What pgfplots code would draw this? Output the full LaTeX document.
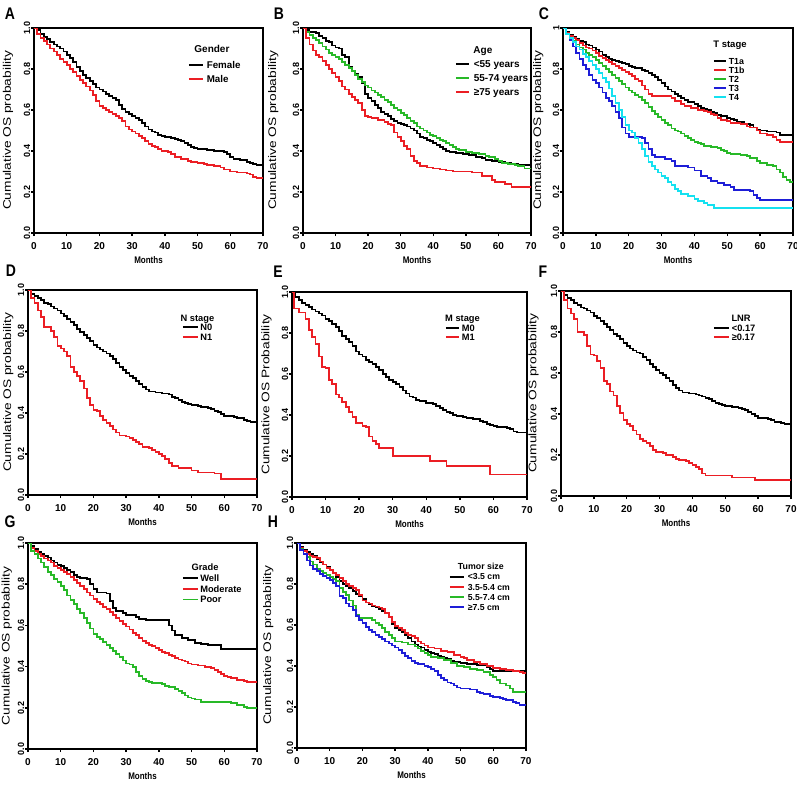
\documentclass[border=0pt]{standalone}
\usepackage{fontspec}
\setmainfont{Liberation Sans}
\usepackage{graphicx}
\usepackage{pgfplots}
\pgfplotsset{compat=1.18}

\definecolor{kmred}{RGB}{235,30,36}
\definecolor{kmgreen}{RGB}{40,185,40}
\definecolor{kmblue}{RGB}{30,30,215}
\definecolor{kmcyan}{RGB}{20,225,240}

\newcommand{\ylab}[1]{\scalebox{1.25}[1]{\fontsize{11}{12}\selectfont #1}}
\newcommand{\xlab}{\scalebox{1}[1.2]{\fontsize{8}{9}\selectfont\bfseries Months}}
\newcommand{\plet}[1]{\scalebox{1}[1.2]{\fontsize{14}{16}\selectfont\bfseries #1}}

\pgfplotsset{
  /pgf/number format/assume math mode=true,
  km/.style={
    scale only axis,
    xmin=0, xmax=70, ymin=0, ymax=1,
    axis line style={line width=1.9pt},
    xtick={0,10,20,30,40,50,60,70},
    xticklabels={0,10,20,30,40,50,60,70},
    ytick={0,0.2,0.4,0.6,0.8,1},
    yticklabels={0.0,0.2,0.4,0.6,0.8,1.0},
    tick align=outside, xtick pos=bottom, ytick pos=left,
    major tick length=3pt,
    tick style={line width=1.5pt, black},
    xticklabel style={font=\fontsize{10}{11}\selectfont\bfseries, inner sep=0pt, anchor=north},
    xticklabel shift=6pt,
    yticklabel style={font=\fontsize{9}{10}\selectfont\bfseries, rotate=90, inner sep=0pt, anchor=south},
    yticklabel shift=0.5pt,
    xlabel={\xlab},
    xlabel style={at={(axis description cs:0.5,0)}, anchor=center, yshift=-27pt},
    every axis plot/.append style={const plot, line width=1.8pt},
    no markers,
    legend cell align=left,
  },
  leg/.style n args={7}{% x, y, font size, text height, row sep, col sep, line length
    legend style={at={(axis description cs:#1,#2)}, anchor=north west,
      draw=none, fill=none, inner sep=0pt, outer sep=0pt,
      font=\fontsize{#3}{#3}\selectfont\bfseries, row sep=#5, column sep=#6,
      nodes={inner sep=0pt, text height=#4, text depth=0pt}},
    legend image code/.code={\draw[##1, line width=1.8pt] (0pt,0pt) -- (#7,0pt);},
  },
  ylpos/.style={ylabel style={at={(axis description cs:#1,0.5)}, anchor=center}},
}

\begin{document}
\begin{tikzpicture}
\useasboundingbox (0pt,0pt) rectangle (797pt,-792pt);

% ---------------- A ----------------
\begin{axis}[km, at={(34pt,-28pt)}, anchor=north west, width=229pt, height=205pt,
  ylabel={\ylab{Cumulative OS probability}}, ylpos=-0.1135,
  leg={0.6725}{0.837}{9.8}{7pt}{7pt}{3pt}{14pt}]
\addplot[black] coordinates {(0,1)(1,0.99)(2,0.97)(3,0.955)(4,0.945)(5,0.93)(6,0.92)(7,0.91)(8,0.9)(9,0.885)(10,0.87)(11,0.855)(12,0.835)(13,0.81)(14,0.79)(15,0.77)(16,0.755)(17,0.74)(18,0.725)(19,0.71)(20,0.70)(21,0.69)(22,0.68)(23,0.67)(24,0.66)(25,0.65)(26,0.625)(27,0.605)(28,0.59)(29,0.58)(30,0.57)(31,0.56)(32,0.55)(33,0.535)(34,0.52)(35,0.505)(36,0.495)(37,0.49)(38,0.48)(39,0.475)(40,0.47)(42,0.465)(43,0.46)(44,0.455)(45,0.45)(46,0.44)(47,0.43)(48,0.42)(49,0.415)(50,0.41)(53,0.405)(55,0.40)(58,0.395)(59,0.385)(60,0.37)(61,0.36)(63,0.355)(65,0.345)(66,0.34)(67,0.335)(68,0.33)(70,0.33)};
\addlegendentry{Female}
\addplot[kmred] coordinates {(0,1)(1,0.97)(2,0.95)(3,0.935)(4,0.92)(5,0.90)(6,0.885)(7,0.87)(8,0.85)(9,0.835)(10,0.82)(11,0.80)(12,0.785)(13,0.765)(14,0.745)(15,0.73)(16,0.715)(17,0.695)(18,0.675)(19,0.645)(20,0.62)(21,0.61)(22,0.60)(23,0.59)(24,0.58)(25,0.57)(26,0.56)(27,0.545)(28,0.52)(29,0.505)(30,0.495)(31,0.485)(32,0.475)(33,0.465)(34,0.45)(35,0.435)(36,0.425)(37,0.42)(38,0.41)(39,0.40)(41,0.395)(42,0.385)(43,0.37)(45,0.36)(47,0.35)(48,0.345)(50,0.34)(52,0.335)(53,0.33)(55,0.325)(57,0.32)(58,0.31)(60,0.30)(62,0.295)(65,0.29)(66,0.285)(67,0.275)(68,0.27)(70,0.27)};
\addlegendentry{Male}
\node[font=\fontsize{10}{10}\selectfont\bfseries, text depth=0pt, inner sep=0pt] at (axis description cs:0.777,0.898) {Gender};
\end{axis}

% ---------------- B ----------------
\begin{axis}[km, at={(303pt,-28pt)}, anchor=north west, width=228pt, height=205pt,
  ylabel={\ylab{Cumulative OS probability}}, ylpos=-0.13,
  leg={0.6667}{0.840}{10}{7pt}{6.7pt}{4pt}{13pt}]
\addplot[black] coordinates {(0,1)(1,0.99)(2,0.98)(4,0.975)(5,0.96)(6,0.95)(7,0.935)(8,0.93)(9,0.915)(10,0.905)(11,0.9)(12,0.87)(13,0.86)(14,0.81)(15,0.79)(16,0.775)(17,0.76)(18,0.73)(19,0.68)(20,0.66)(21,0.645)(22,0.625)(23,0.61)(24,0.59)(25,0.58)(26,0.57)(27,0.555)(28,0.545)(29,0.535)(30,0.53)(31,0.525)(32,0.52)(33,0.51)(34,0.5)(35,0.485)(36,0.47)(37,0.465)(38,0.455)(39,0.45)(40,0.44)(41,0.43)(42,0.42)(43,0.41)(44,0.4)(45,0.395)(47,0.39)(49,0.385)(51,0.38)(53,0.37)(55,0.365)(56,0.355)(58,0.35)(60,0.345)(62,0.34)(64,0.335)(66,0.33)(70,0.33)};
\addlegendentry{<55 years}
\addplot[kmgreen] coordinates {(0,1)(1,0.98)(2,0.965)(3,0.95)(4,0.94)(5,0.925)(6,0.91)(7,0.895)(8,0.88)(9,0.87)(10,0.86)(11,0.85)(12,0.835)(13,0.82)(14,0.805)(15,0.79)(16,0.77)(17,0.75)(18,0.735)(19,0.72)(20,0.71)(21,0.695)(22,0.685)(23,0.675)(24,0.665)(25,0.65)(26,0.64)(27,0.625)(28,0.61)(29,0.6)(30,0.585)(31,0.575)(32,0.56)(33,0.545)(34,0.535)(35,0.52)(36,0.51)(37,0.5)(38,0.49)(39,0.48)(40,0.475)(41,0.465)(42,0.455)(43,0.45)(44,0.44)(45,0.43)(46,0.42)(47,0.41)(48,0.405)(50,0.395)(52,0.39)(54,0.385)(56,0.375)(57,0.37)(59,0.36)(60,0.35)(61,0.34)(63,0.335)(65,0.33)(66,0.325)(68,0.315)(70,0.31)};
\addlegendentry{55-74 years}
\addplot[kmred] coordinates {(0,1)(1,0.95)(2,0.92)(3,0.89)(4,0.87)(5,0.86)(6,0.84)(7,0.82)(8,0.8)(9,0.78)(10,0.76)(11,0.74)(12,0.715)(13,0.7)(14,0.68)(15,0.665)(16,0.65)(17,0.635)(18,0.6)(19,0.57)(20,0.565)(21,0.56)(23,0.55)(25,0.54)(26,0.53)(27,0.525)(28,0.49)(29,0.47)(30,0.45)(31,0.425)(32,0.41)(33,0.375)(34,0.35)(35,0.34)(36,0.325)(38,0.32)(40,0.315)(42,0.31)(44,0.305)(46,0.3)(52,0.295)(55,0.28)(58,0.26)(59,0.25)(62,0.24)(64,0.225)(70,0.225)};
\addlegendentry{≥75 years}
\node[font=\fontsize{10}{10}\selectfont\bfseries, text depth=0pt, inner sep=0pt] at (axis description cs:0.789,0.893) {Age};
\end{axis}

% ---------------- C ----------------
\begin{axis}[km, at={(563pt,-28pt)}, anchor=north west, width=230pt, height=205pt,
  yticklabels={0.0,0.2,0.4,0.6,0.8,1},
  ylabel={\ylab{Cumulative OS probability}}, ylpos=-0.107,
  leg={0.652}{0.854}{8.8}{6.3pt}{2.7pt}{2pt}{12pt}]
\addplot[black] coordinates {(0,1)(1,0.98)(2,0.965)(3,0.955)(4,0.945)(5,0.935)(6,0.93)(7,0.92)(8,0.915)(9,0.905)(10,0.895)(11,0.885)(12,0.87)(13,0.86)(14,0.85)(15,0.845)(16,0.84)(17,0.835)(18,0.83)(19,0.825)(20,0.815)(21,0.81)(22,0.805)(24,0.795)(25,0.79)(26,0.78)(27,0.77)(28,0.76)(29,0.745)(30,0.73)(31,0.715)(32,0.7)(33,0.69)(34,0.68)(35,0.67)(36,0.66)(37,0.65)(38,0.64)(40,0.63)(41,0.62)(42,0.61)(43,0.605)(44,0.6)(45,0.59)(46,0.585)(47,0.575)(48,0.57)(50,0.56)(51,0.555)(52,0.55)(53,0.54)(55,0.53)(57,0.525)(58,0.515)(59,0.505)(60,0.5)(62,0.495)(65,0.49)(66,0.48)(70,0.475)};
\addlegendentry{T1a}
\addplot[kmred] coordinates {(0,1)(1,0.975)(2,0.96)(3,0.95)(4,0.94)(5,0.925)(6,0.915)(7,0.905)(8,0.9)(9,0.89)(10,0.88)(11,0.865)(12,0.855)(13,0.845)(14,0.835)(15,0.825)(16,0.815)(17,0.805)(18,0.795)(19,0.785)(20,0.775)(21,0.765)(22,0.75)(23,0.74)(24,0.72)(25,0.7)(26,0.68)(27,0.667)(33,0.66)(34,0.645)(36,0.63)(37,0.62)(39,0.61)(41,0.6)(43,0.595)(44,0.59)(45,0.58)(46,0.575)(47,0.56)(48,0.55)(50,0.545)(51,0.535)(54,0.53)(56,0.52)(57,0.515)(59,0.5)(60,0.485)(62,0.48)(64,0.47)(65,0.455)(66,0.445)(70,0.445)};
\addlegendentry{T1b}
\addplot[kmgreen] coordinates {(0,1)(1,0.97)(2,0.95)(3,0.935)(4,0.92)(5,0.905)(6,0.895)(7,0.88)(8,0.87)(9,0.86)(10,0.845)(11,0.83)(12,0.815)(13,0.8)(14,0.785)(15,0.77)(16,0.755)(17,0.74)(18,0.725)(19,0.71)(20,0.695)(21,0.685)(22,0.675)(23,0.665)(24,0.65)(25,0.635)(26,0.615)(27,0.595)(28,0.58)(29,0.565)(30,0.55)(31,0.535)(32,0.525)(33,0.51)(34,0.5)(35,0.495)(36,0.485)(37,0.475)(38,0.465)(39,0.455)(40,0.445)(41,0.44)(42,0.435)(43,0.425)(45,0.42)(47,0.415)(48,0.405)(49,0.4)(50,0.39)(51,0.385)(54,0.38)(56,0.375)(57,0.365)(59,0.35)(60,0.34)(62,0.33)(64,0.325)(65,0.31)(66,0.295)(67,0.275)(68,0.26)(69,0.25)(70,0.25)};
\addlegendentry{T2}
\addplot[kmblue] coordinates {(0,1)(1,0.97)(2,0.94)(3,0.91)(4,0.88)(5,0.85)(6,0.82)(7,0.8)(8,0.77)(9,0.745)(10,0.73)(11,0.71)(12,0.685)(13,0.66)(14,0.645)(15,0.62)(16,0.59)(17,0.56)(18,0.515)(19,0.485)(20,0.47)(24,0.465)(25,0.44)(26,0.41)(27,0.38)(28,0.37)(31,0.36)(33,0.35)(34,0.325)(38,0.32)(40,0.305)(42,0.28)(44,0.27)(45,0.255)(47,0.245)(49,0.235)(51,0.225)(52,0.21)(57,0.205)(58,0.185)(59,0.17)(60,0.16)(70,0.16)};
\addlegendentry{T3}
\addplot[kmcyan] coordinates {(0,1)(1,0.97)(2,0.95)(3,0.93)(4,0.91)(5,0.895)(6,0.875)(7,0.86)(8,0.84)(9,0.82)(10,0.8)(11,0.78)(12,0.755)(13,0.735)(14,0.705)(15,0.67)(16,0.635)(17,0.6)(18,0.565)(19,0.525)(20,0.5)(21,0.49)(22,0.465)(23,0.44)(24,0.41)(25,0.375)(26,0.345)(27,0.325)(28,0.31)(29,0.295)(30,0.28)(31,0.27)(32,0.25)(33,0.235)(34,0.215)(35,0.205)(36,0.19)(38,0.18)(40,0.165)(41,0.155)(43,0.145)(44,0.135)(46,0.122)(70,0.122)};
\addlegendentry{T4}
\node[font=\fontsize{9.5}{9.5}\selectfont\bfseries, text depth=0pt, inner sep=0pt] at (axis description cs:0.726,0.92) {T stage};
\end{axis}

% ---------------- D ----------------
\begin{axis}[km, at={(28pt,-290pt)}, anchor=north west, width=229pt, height=205pt,
  ylabel={\ylab{Cumulative OS probability}}, ylpos=-0.086,
  leg={0.6725}{0.837}{9.3}{6.7pt}{3.3pt}{1.5pt}{15pt}]
\addplot[black] coordinates {(0,1)(1,0.98)(2,0.97)(3,0.96)(4,0.95)(5,0.935)(6,0.93)(7,0.92)(8,0.91)(9,0.9)(10,0.885)(11,0.875)(12,0.86)(13,0.845)(14,0.83)(15,0.81)(16,0.795)(17,0.78)(18,0.765)(19,0.75)(20,0.73)(21,0.72)(22,0.71)(23,0.7)(24,0.69)(25,0.68)(26,0.665)(27,0.645)(28,0.625)(29,0.61)(30,0.595)(31,0.58)(32,0.57)(33,0.555)(34,0.54)(35,0.525)(36,0.515)(37,0.505)(39,0.5)(41,0.495)(43,0.49)(44,0.48)(45,0.475)(46,0.465)(47,0.455)(48,0.45)(49,0.445)(50,0.44)(52,0.435)(53,0.43)(55,0.425)(56,0.42)(57,0.41)(58,0.405)(59,0.395)(60,0.385)(63,0.38)(64,0.375)(66,0.365)(67,0.36)(68,0.355)(70,0.355)};
\addlegendentry{N0}
\addplot[kmred] coordinates {(0,1)(1,0.96)(2,0.935)(3,0.9)(4,0.87)(5,0.82)(7,0.8)(8,0.77)(9,0.725)(10,0.715)(11,0.7)(12,0.68)(13,0.625)(14,0.6)(15,0.58)(16,0.555)(17,0.52)(18,0.475)(19,0.44)(20,0.415)(21,0.41)(22,0.385)(23,0.365)(24,0.35)(25,0.335)(26,0.32)(27,0.305)(28,0.29)(30,0.285)(31,0.28)(32,0.27)(33,0.26)(34,0.25)(35,0.235)(37,0.23)(38,0.22)(39,0.21)(40,0.2)(41,0.19)(42,0.175)(43,0.155)(44,0.14)(46,0.13)(50,0.12)(52,0.11)(57,0.105)(59,0.08)(70,0.08)};
\addlegendentry{N1}
\node[font=\fontsize{9.3}{9.3}\selectfont\bfseries, text depth=0pt, inner sep=0pt] at (axis description cs:0.740,0.862) {N stage};
\end{axis}

% ---------------- E ----------------
\begin{axis}[km, at={(292pt,-292pt)}, anchor=north west, width=235pt, height=205pt,
  ylabel={\ylab{Cumulative OS Probability}}, ylpos=-0.108,
  leg={0.651}{0.839}{9.3}{6.7pt}{2.3pt}{2pt}{13pt}]
\addplot[black] coordinates {(0,1)(1,0.975)(2,0.96)(3,0.945)(4,0.935)(5,0.925)(6,0.915)(7,0.905)(8,0.895)(9,0.885)(10,0.87)(11,0.86)(12,0.845)(13,0.83)(14,0.81)(15,0.785)(16,0.77)(17,0.755)(18,0.735)(19,0.71)(20,0.695)(21,0.685)(22,0.67)(23,0.66)(24,0.65)(25,0.635)(26,0.62)(27,0.6)(28,0.585)(29,0.57)(30,0.56)(31,0.55)(32,0.535)(33,0.52)(34,0.505)(35,0.49)(36,0.485)(37,0.475)(38,0.47)(40,0.46)(42,0.455)(43,0.445)(44,0.435)(45,0.425)(46,0.415)(47,0.41)(48,0.4)(49,0.395)(51,0.39)(52,0.385)(54,0.38)(56,0.37)(57,0.365)(58,0.355)(59,0.35)(60,0.345)(61,0.34)(64,0.335)(65,0.33)(66,0.32)(67,0.315)(70,0.315)};
\addlegendentry{M0}
\addplot[kmred] coordinates {(0,1)(0.5,0.92)(2,0.9)(4,0.87)(5,0.815)(6,0.78)(7,0.745)(8,0.685)(9,0.635)(10,0.63)(11,0.57)(12,0.55)(13,0.5)(14,0.485)(15,0.465)(16,0.44)(17,0.415)(18,0.39)(19,0.36)(21,0.345)(22,0.34)(23,0.295)(24,0.275)(25,0.26)(26,0.24)(30,0.2)(41,0.175)(46,0.15)(59,0.11)(70,0.11)};
\addlegendentry{M1}
\node[font=\fontsize{9.3}{9.3}\selectfont\bfseries, text depth=0pt, inner sep=0pt] at (axis description cs:0.7255,0.87) {M stage};
\end{axis}

% ---------------- F ----------------
\begin{axis}[km, at={(561pt,-291pt)}, anchor=north west, width=230pt, height=205pt,
  ylabel={\ylab{Cumulative OS probability}}, ylpos=-0.12,
  leg={0.661}{0.837}{9.3}{6.7pt}{2.3pt}{2pt}{15pt}]
\addplot[black] coordinates {(0,1)(1,0.98)(2,0.965)(3,0.955)(4,0.94)(5,0.93)(6,0.92)(7,0.915)(8,0.905)(9,0.895)(10,0.88)(11,0.87)(12,0.855)(13,0.84)(14,0.825)(15,0.81)(16,0.79)(17,0.78)(18,0.765)(19,0.745)(20,0.73)(21,0.72)(22,0.71)(23,0.7)(24,0.695)(25,0.68)(26,0.665)(27,0.645)(28,0.63)(29,0.615)(30,0.6)(31,0.59)(32,0.575)(33,0.56)(34,0.54)(35,0.525)(36,0.515)(37,0.505)(39,0.5)(41,0.495)(42,0.49)(43,0.485)(44,0.48)(45,0.475)(46,0.465)(47,0.455)(48,0.45)(49,0.445)(50,0.44)(52,0.435)(54,0.43)(55,0.425)(56,0.42)(57,0.41)(58,0.4)(59,0.39)(60,0.38)(63,0.375)(64,0.37)(65,0.36)(67,0.355)(68,0.35)(70,0.35)};
\addlegendentry{<0.17}
\addplot[kmred] coordinates {(0,1)(1,0.955)(2,0.915)(3,0.89)(4,0.865)(5,0.8)(7,0.785)(8,0.73)(9,0.69)(10,0.685)(11,0.66)(12,0.625)(13,0.56)(14,0.545)(15,0.51)(16,0.49)(17,0.44)(18,0.405)(19,0.37)(20,0.35)(21,0.34)(22,0.32)(23,0.3)(24,0.28)(25,0.27)(26,0.26)(27,0.245)(28,0.225)(29,0.215)(31,0.21)(32,0.2)(34,0.19)(35,0.18)(36,0.175)(38,0.17)(39,0.16)(40,0.15)(41,0.14)(42,0.13)(43,0.11)(44,0.1)(52,0.09)(59,0.078)(70,0.078)};
\addlegendentry{≥0.17}
\node[font=\fontsize{9.3}{9.3}\selectfont\bfseries, text depth=0pt, inner sep=0pt] at (axis description cs:0.783,0.865) {LNR};
\end{axis}

% ---------------- G ----------------
\begin{axis}[km, at={(28pt,-543pt)}, anchor=north west, width=229pt, height=206pt,
  ylabel={\ylab{Cumulative OS probability}}, ylpos=-0.093,
  leg={0.6725}{0.847}{9.3}{6.7pt}{4.1pt}{1.5pt}{15pt}]
\addplot[black] coordinates {(0,1)(1,0.985)(2,0.97)(3,0.955)(4,0.945)(5,0.935)(6,0.93)(7,0.915)(8,0.905)(9,0.895)(10,0.89)(11,0.88)(12,0.87)(13,0.86)(14,0.845)(15,0.835)(16,0.83)(18,0.825)(19,0.8)(20,0.775)(21,0.76)(24,0.755)(25,0.72)(26,0.685)(27,0.67)(29,0.66)(30,0.65)(33,0.64)(34,0.63)(36,0.625)(43,0.6)(44,0.575)(45,0.555)(47,0.54)(49,0.53)(51,0.515)(53,0.51)(55,0.505)(59,0.485)(70,0.485)};
\addlegendentry{Well}
\addplot[kmred] coordinates {(0,1)(1,0.975)(2,0.96)(3,0.945)(4,0.935)(5,0.925)(6,0.915)(7,0.905)(8,0.89)(9,0.88)(10,0.87)(11,0.86)(12,0.85)(13,0.835)(14,0.82)(15,0.805)(16,0.79)(17,0.775)(18,0.76)(19,0.745)(20,0.73)(21,0.715)(22,0.705)(23,0.69)(24,0.68)(25,0.665)(26,0.65)(27,0.635)(28,0.62)(29,0.605)(30,0.595)(31,0.58)(32,0.565)(33,0.555)(34,0.54)(35,0.525)(36,0.515)(37,0.505)(38,0.5)(39,0.49)(40,0.48)(41,0.47)(42,0.465)(43,0.455)(44,0.45)(45,0.44)(46,0.435)(47,0.43)(48,0.425)(49,0.415)(50,0.41)(52,0.405)(54,0.4)(56,0.395)(57,0.385)(58,0.375)(59,0.365)(60,0.355)(61,0.35)(62,0.345)(64,0.335)(66,0.33)(67,0.325)(70,0.325)};
\addlegendentry{Moderate}
\addplot[kmgreen] coordinates {(0,1)(1,0.96)(2,0.945)(3,0.925)(4,0.905)(5,0.885)(6,0.86)(7,0.845)(8,0.825)(9,0.81)(10,0.79)(11,0.77)(12,0.745)(13,0.725)(14,0.705)(15,0.68)(16,0.66)(17,0.635)(18,0.61)(19,0.585)(20,0.56)(21,0.545)(22,0.535)(23,0.52)(24,0.505)(25,0.49)(26,0.475)(27,0.46)(28,0.445)(29,0.43)(30,0.415)(31,0.41)(32,0.4)(33,0.375)(34,0.355)(35,0.34)(36,0.33)(37,0.325)(38,0.32)(41,0.315)(42,0.305)(43,0.3)(45,0.29)(46,0.28)(47,0.27)(48,0.26)(49,0.25)(50,0.245)(51,0.24)(53,0.23)(62,0.225)(64,0.215)(66,0.205)(67,0.2)(70,0.2)};
\addlegendentry{Poor}
\node[font=\fontsize{9.3}{9.3}\selectfont\bfseries, text depth=0pt, inner sep=0pt] at (axis description cs:0.773,0.883) {Grade};
\end{axis}

% ---------------- H ----------------
\begin{axis}[km, at={(297pt,-543pt)}, anchor=north west, width=229pt, height=205pt,
  ylabel={\ylab{Cumulative OS probability}}, ylpos=-0.125,
  leg={0.664}{0.851}{8.7}{6.3pt}{3.9pt}{3pt}{14pt}]
\addplot[black] coordinates {(0,1)(1,0.98)(2,0.965)(3,0.955)(4,0.945)(5,0.935)(6,0.92)(7,0.905)(8,0.895)(9,0.885)(10,0.87)(11,0.855)(12,0.835)(13,0.815)(14,0.8)(15,0.79)(16,0.78)(17,0.765)(18,0.75)(19,0.74)(20,0.725)(21,0.71)(22,0.7)(23,0.69)(24,0.685)(25,0.68)(26,0.67)(27,0.66)(28,0.64)(29,0.605)(30,0.585)(31,0.575)(32,0.565)(33,0.55)(34,0.535)(35,0.52)(36,0.505)(37,0.495)(38,0.49)(39,0.48)(40,0.47)(41,0.465)(42,0.46)(43,0.45)(44,0.445)(45,0.44)(46,0.435)(47,0.425)(48,0.42)(50,0.415)(52,0.41)(55,0.405)(58,0.395)(59,0.385)(60,0.375)(70,0.375)};
\addlegendentry{<3.5 cm}
\addplot[kmred] coordinates {(0,1)(1,0.975)(2,0.96)(3,0.945)(4,0.935)(5,0.93)(6,0.925)(7,0.91)(8,0.895)(9,0.88)(10,0.87)(11,0.855)(12,0.845)(13,0.83)(14,0.815)(15,0.8)(16,0.79)(17,0.78)(18,0.77)(19,0.745)(20,0.72)(21,0.71)(22,0.705)(23,0.695)(24,0.69)(25,0.685)(26,0.68)(27,0.66)(28,0.64)(29,0.615)(30,0.595)(31,0.585)(32,0.575)(33,0.56)(34,0.55)(35,0.545)(36,0.535)(37,0.52)(38,0.51)(39,0.5)(40,0.49)(42,0.485)(44,0.475)(46,0.47)(48,0.455)(50,0.445)(51,0.44)(52,0.43)(54,0.42)(56,0.41)(58,0.4)(60,0.39)(62,0.385)(64,0.38)(66,0.375)(68,0.37)(69,0.365)(70,0.365)};
\addlegendentry{3.5-5.4 cm}
\addplot[kmgreen] coordinates {(0,1)(1,0.97)(2,0.945)(3,0.93)(4,0.91)(5,0.895)(6,0.875)(7,0.865)(8,0.855)(9,0.845)(10,0.835)(11,0.825)(12,0.815)(13,0.78)(14,0.76)(15,0.745)(16,0.72)(17,0.695)(18,0.65)(19,0.635)(23,0.625)(24,0.61)(25,0.6)(26,0.585)(27,0.565)(28,0.55)(29,0.535)(30,0.52)(32,0.515)(34,0.505)(36,0.495)(37,0.485)(38,0.475)(39,0.465)(40,0.455)(41,0.445)(43,0.44)(45,0.43)(47,0.415)(49,0.4)(51,0.395)(53,0.385)(55,0.38)(57,0.37)(59,0.355)(60,0.345)(61,0.33)(62,0.315)(64,0.305)(65,0.29)(66,0.275)(70,0.275)};
\addlegendentry{5.5-7.4 cm}
\addplot[kmblue] coordinates {(0,1)(1,0.965)(2,0.945)(3,0.915)(4,0.89)(5,0.875)(6,0.865)(7,0.85)(8,0.84)(9,0.83)(10,0.82)(11,0.805)(12,0.79)(13,0.74)(14,0.73)(15,0.705)(16,0.69)(17,0.675)(18,0.645)(19,0.625)(20,0.61)(21,0.59)(22,0.575)(23,0.565)(24,0.55)(25,0.54)(26,0.53)(27,0.52)(28,0.51)(29,0.5)(30,0.49)(31,0.48)(32,0.465)(33,0.45)(34,0.44)(35,0.425)(36,0.415)(37,0.41)(39,0.4)(40,0.395)(41,0.385)(42,0.375)(43,0.355)(44,0.34)(45,0.33)(46,0.32)(47,0.315)(48,0.305)(49,0.295)(50,0.29)(53,0.285)(55,0.275)(56,0.27)(57,0.265)(59,0.255)(60,0.25)(62,0.245)(63,0.24)(64,0.235)(66,0.225)(67,0.22)(68,0.21)(70,0.21)};
\addlegendentry{≥7.5 cm}
\node[font=\fontsize{8.8}{8.8}\selectfont\bfseries, text depth=0pt, inner sep=0pt] at (axis description cs:0.803,0.884) {Tumor size};
\end{axis}

% panel letters
\node at (10pt,-14pt) {\plet{A}};
\node at (279pt,-14pt) {\plet{B}};
\node at (544pt,-14pt) {\plet{C}};
\node at (11pt,-271pt) {\plet{D}};
\node at (278pt,-272pt) {\plet{E}};
\node at (543pt,-272pt) {\plet{F}};
\node at (10pt,-522pt) {\plet{G}};
\node at (273pt,-522pt) {\plet{H}};
\end{tikzpicture}
\end{document}
